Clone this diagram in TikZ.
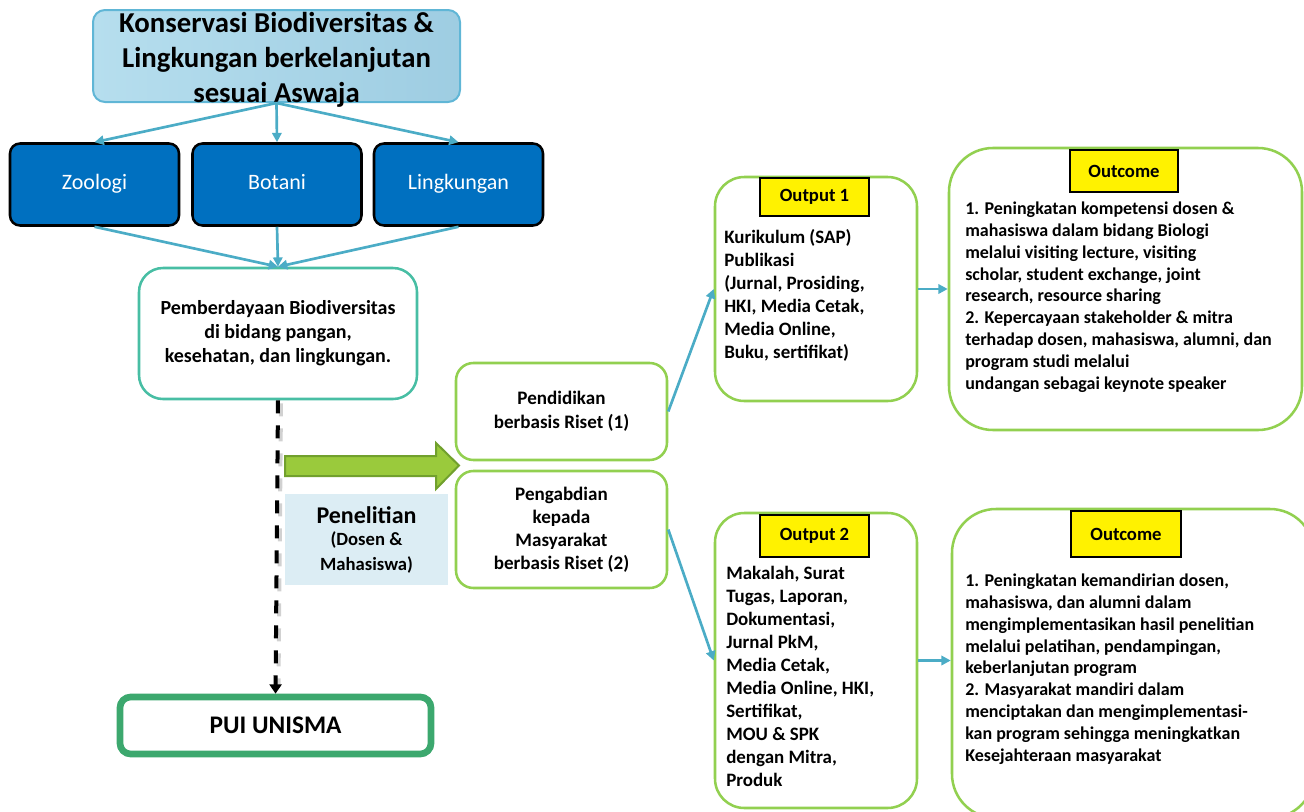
\documentclass[tikz,border=0pt]{standalone}
\usepackage{fontspec}
\setmainfont{Carlito}
\usepackage{tikz}
\usetikzlibrary{arrows.meta,calc,positioning}
\newcommand{\fsz}[2]{\fontsize{#1}{#2}\selectfont}

\definecolor{titlefillL}{RGB}{182,222,238}
\definecolor{titlefillR}{RGB}{158,205,226}
\definecolor{titleline}{RGB}{96,182,214}
\definecolor{linkblue}{RGB}{75,172,198}
\definecolor{boxblue}{RGB}{0,112,192}
\definecolor{tealline}{RGB}{72,190,164}
\definecolor{limeline}{RGB}{146,208,80}
\definecolor{puigreen}{RGB}{60,168,110}
\definecolor{arrowfill}{RGB}{154,202,60}
\definecolor{arrowline}{RGB}{113,160,45}
\definecolor{penfill}{RGB}{220,237,244}

\tikzset{
	basebox/.style={rectangle, inner sep=0pt, align=center},
	topicbox/.style={basebox, draw=black, line width=1.9pt, fill=boxblue, rounded corners=7.5pt,
		minimum width=126.75pt, minimum height=61.5pt, text height=12pt, text depth=4pt,
		text=white, font=\fsz{16.5}{19}},
	roundbox/.style={basebox, draw=limeline, line width=1.9pt, fill=white, font=\bfseries\fsz{14.3}{18}},
	tagbox/.style={basebox, draw=black, line width=0.9pt, fill=yellow, minimum width=81.75pt, font=\bfseries\fsz{14}{16}},
	bodytext/.style={inner sep=0pt, align=left, anchor=north west},
	link/.style={draw=linkblue, line width=2pt, -{Triangle[length=7pt,width=7pt]}},
}

\begin{document}
\begin{tikzpicture}[x=0.75pt,y=-0.75pt]
	\clip (0,0) rectangle (1304,811);

	% left column
	\node [basebox, draw=titleline, line width=1.5pt, left color=titlefillL, right color=titlefillR,
		rounded corners=9pt, minimum width=275.25pt, minimum height=69pt,
		label={[align=center, yshift=-2.5pt, font=\bfseries\fsz{21.6}{26.25}]center:{Konservasi Biodiversitas \&\\Lingkungan berkelanjutan\\sesuai Aswaja}}]
		(title) at (276.5,56) {};
	\node [topicbox] (zoo) at (94.5,184.5) {Zoologi};
	\node [topicbox] (bot) at (277,184.5) {Botani};
	\node [topicbox] (ling) at (458.5,184.5) {Lingkungan};
	\node [basebox, draw=tealline, line width=1.9pt, rounded corners=18pt, minimum width=208.5pt,
		minimum height=98.25pt, font=\bfseries\fsz{15}{18}] (pemb) at (278,333.5)
		{Pemberdayaan Biodiversitas\\di bidang pangan,\\kesehatan, dan lingkungan.};
	\node [basebox, draw=puigreen, line width=5pt, rounded corners=8pt, minimum width=233.25pt,
		minimum height=42.75pt, font=\bfseries\fsz{19}{22}] (pui) at (275.5,725.5) {PUI UNISMA};

	\draw [link] (title.south) -- (zoo.north);
	\draw [link] (title.south) -- (bot.north);
	\draw [link] (title.south) -- (ling.north);
	\draw [link] (zoo.south) -- (pemb.north);
	\draw [link] (bot.south) -- (pemb.north);
	\draw [link] (ling.south) -- (pemb.north);

	% dashed link with its shadow
	\draw [black!18, line width=3pt, dash pattern=on 9.75pt off 9pt] ($(pemb.south)+(3,3)$) -- ($(pui.north)+(3,-8)$);
	\draw [black, line width=3pt, dash pattern=on 9.75pt off 9pt, -{Triangle[length=7pt,width=9pt]}] (pemb.south) -- (pui.north);

	% research block
	\node [basebox, fill=penfill, minimum width=122.25pt, minimum height=68.25pt, font=\bfseries] (pen) at (366.5,539.5)
		{\fsz{18}{19}Penelitian\\[4.5pt]\fsz{14}{18}(Dosen \&\\[5.2pt]\fsz{14}{18}Mahasiswa)};
	\draw [fill=arrowfill, draw=arrowline, line width=1.5pt]
		(285,456) -- (436,456) -- (436,443) -- (459,465.5) -- (436,489) -- (436,476) -- (285,476) -- cycle;
	\node [roundbox, rounded corners=13pt, minimum width=158.25pt, minimum height=72.75pt] (pend) at (561.5,411.5)
		{Pendidikan\\berbasis Riset (1)};
	\node [roundbox, rounded corners=13pt, minimum width=158.25pt, minimum height=87.75pt,
		font=\bfseries\fsz{14.3}{17.25}] (pengab) at (561.5,529.5)
		{Pengabdian\\kepada\\Masyarakat\\berbasis Riset (2)};

	% outputs
	\node [roundbox, rounded corners=22pt, minimum width=151.5pt, minimum height=168pt] (out1) at (816,289) {};
	\node [tagbox, minimum height=28.5pt] (tag1) at (814.5,197) {Output 1};
	\node [bodytext, font=\bfseries\fsz{14.2}{17.25}] (out1txt) at (724,229)
		{Kurikulum (SAP)\\Publikasi\\(Jurnal, Prosiding,\\HKI, Media Cetak,\\Media Online,\\Buku, sertifikat)};
	\node [roundbox, rounded corners=22pt, minimum width=151.5pt, minimum height=221.25pt] (out2) at (816,660.5) {};
	\node [tagbox, minimum height=31.5pt] (tag2) at (814.5,536) {Output 2};
	\node [bodytext, font=\bfseries\fsz{14.2}{17.25}] (out2txt) at (726,566)
		{Makalah, Surat\\Tugas, Laporan,\\Dokumentasi,\\Jurnal PkM,\\Media Cetak,\\Media Online, HKI,\\Sertifikat,\\MOU \& SPK\\dengan Mitra,\\Produk};

	% outcomes
	\node [roundbox, rounded corners=33pt, minimum width=264.75pt, minimum height=211.5pt] (outc1) at (1125.5,289) {};
	\node [tagbox, minimum width=81pt, minimum height=31.5pt] (tag3) at (1124,171) {Outcome};
	\node [bodytext, font=\bfseries\fsz{13.5}{16.4}] (outc1txt) at (965,201.5)
		{1. Peningkatan kompetensi dosen \&\\mahasiswa dalam bidang Biologi\\melalui visiting lecture, visiting\\scholar, student exchange, joint\\research, resource sharing\\2. Kepercayaan stakeholder \& mitra\\terhadap dosen, mahasiswa, alumni, dan\\program studi melalui\\undangan sebagai keynote speaker};
	\node [roundbox, rounded corners=33pt, minimum width=271.5pt, minimum height=231.75pt] (outc2) at (1133,663.5) {};
	\node [tagbox, minimum width=82.5pt, minimum height=34.5pt] (tag4) at (1126,534) {Outcome};
	\node [bodytext, font=\bfseries\fsz{13.5}{16.4}] (outc2txt) at (965,573.5)
		{1. Peningkatan kemandirian dosen,\\mahasiswa, dan alumni dalam\\mengimplementasikan hasil penelitian\\melalui pelatihan, pendampingan,\\keberlanjutan program\\2. Masyarakat mandiri dalam\\menciptakan dan mengimplementasi-\\kan program sehingga meningkatkan\\Kesejahteraan masyarakat};

	% links on the right
	\draw [link] (pend.east) -- (out1.west);
	\draw [link] (pengab.east) -- (out2.west);
	\draw [link] (out1.east) -- (outc1.west);
	\draw [link] (out2.east) -- (out2.east -| outc2.west);
\end{tikzpicture}
\end{document}
